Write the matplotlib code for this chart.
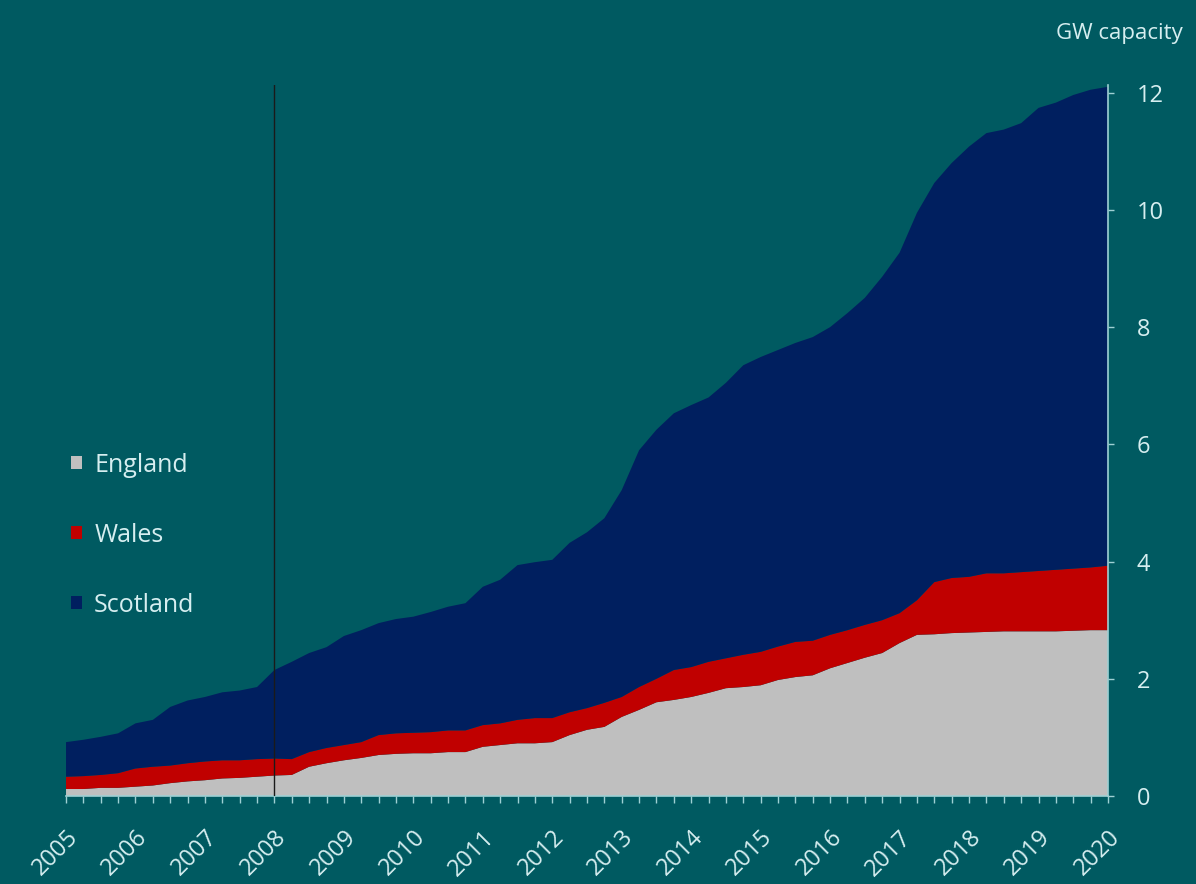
import numpy as np
import matplotlib.pyplot as plt
import matplotlib.transforms as mtransforms
from matplotlib.patches import Patch

# quarterly installed capacity, GW (2005 Q1 .. 2020 Q1)
quarters = np.arange(2005, 2020.01, 0.25)

england = [0.12, 0.12, 0.14, 0.14, 0.16, 0.18, 0.22, 0.25, 0.27, 0.30, 0.31, 0.33,
           0.35, 0.36, 0.50, 0.56, 0.61, 0.65, 0.70, 0.72, 0.73, 0.73, 0.75, 0.75,
           0.84, 0.87, 0.90, 0.90, 0.92, 1.04, 1.13, 1.18, 1.35, 1.47, 1.60, 1.64,
           1.69, 1.76, 1.84, 1.86, 1.89, 1.98, 2.03, 2.06, 2.18, 2.27, 2.36, 2.44,
           2.61, 2.75, 2.76, 2.78, 2.79, 2.80, 2.81, 2.81, 2.81, 2.81, 2.82, 2.83,
           2.83]

wales = [0.21, 0.22, 0.22, 0.25, 0.31, 0.32, 0.30, 0.31, 0.32, 0.31, 0.30, 0.30,
         0.29, 0.27, 0.25, 0.26, 0.26, 0.27, 0.34, 0.35, 0.35, 0.36, 0.37, 0.37,
         0.37, 0.37, 0.40, 0.43, 0.41, 0.39, 0.37, 0.41, 0.34, 0.39, 0.40, 0.51,
         0.51, 0.53, 0.51, 0.55, 0.57, 0.57, 0.60, 0.59, 0.57, 0.56, 0.56, 0.56,
         0.51, 0.59, 0.89, 0.94, 0.95, 1.00, 0.99, 1.01, 1.03, 1.05, 1.06, 1.07,
         1.10]

scotland = [0.59, 0.62, 0.65, 0.68, 0.77, 0.80, 1.00, 1.07, 1.10, 1.16, 1.19, 1.23,
            1.51, 1.66, 1.69, 1.72, 1.86, 1.91, 1.91, 1.95, 1.98, 2.05, 2.11, 2.17,
            2.36, 2.45, 2.64, 2.66, 2.70, 2.89, 3.00, 3.15, 3.53, 4.04, 4.25, 4.38,
            4.47, 4.51, 4.70, 4.94, 5.03, 5.06, 5.10, 5.18, 5.25, 5.41, 5.58, 5.86,
            6.15, 6.61, 6.81, 7.08, 7.34, 7.51, 7.57, 7.66, 7.90, 7.97, 8.08, 8.15,
            8.17]

years = list(range(2005, 2021))
labels = ['England', 'Wales', 'Scotland']
colors = ['#bfbfbf', '#c00000', '#001f5f']

bg = '#005a61'
txt = '#d6eef0'
axis_col = '#9fd0d4'

plt.rcParams['font.family'] = ['Open Sans', 'DejaVu Sans']

fig = plt.figure(figsize=(11.96, 8.84), dpi=100, facecolor=bg)
ax = fig.add_axes([0.0552, 0.0995, 0.8712, 0.8043])
ax.set_facecolor(bg)

ax.stackplot(quarters, england, wales, scotland, colors=colors, linewidth=0)
ax.axvline(2008, color='#1a1a1a', lw=1.0, zorder=3)

ax.set_xlim(2005, 2020)
ax.set_ylim(0, 12.13)

# axes on the right and bottom only
ax.yaxis.tick_right()
for s in ['left', 'top']:
    ax.spines[s].set_visible(False)
for s in ['right', 'bottom']:
    ax.spines[s].set_color(axis_col)
    ax.spines[s].set_linewidth(1.2)

ax.set_yticks(range(0, 13, 2))
ax.tick_params(axis='y', colors=axis_col, labelcolor=txt, labelsize=17,
               length=4.5, width=1, pad=16)

ax.set_xticks(years)
ax.set_xticklabels([str(y) for y in years], rotation=45, ha='right',
                   rotation_mode='anchor')
ax.set_xticks(quarters, minor=True)
ax.tick_params(axis='x', which='both', colors=axis_col, labelcolor=txt,
               labelsize=17, length=5, width=1, pad=4)

# push the year labels down a bit, like the original
shift = mtransforms.ScaledTranslation(0.0, -0.17, fig.dpi_scale_trans)
for lab in ax.get_xticklabels():
    lab.set_transform(lab.get_transform() + shift)

fig.text(0.989, 0.962, 'GW capacity', color=txt, fontsize=16, ha='right', va='center')

handles = [Patch(facecolor=c, edgecolor='none') for c in colors]
leg = ax.legend(handles, labels, loc='center left', bbox_to_anchor=(0.005, 0.367),
                frameon=False, fontsize=18, handlelength=0.42, handleheight=0.42,
                handletextpad=0.5, labelspacing=1.8, borderpad=0, borderaxespad=0)
for t in leg.get_texts():
    t.set_color(txt)

fig.savefig('out.png', dpi=100, facecolor=bg)
